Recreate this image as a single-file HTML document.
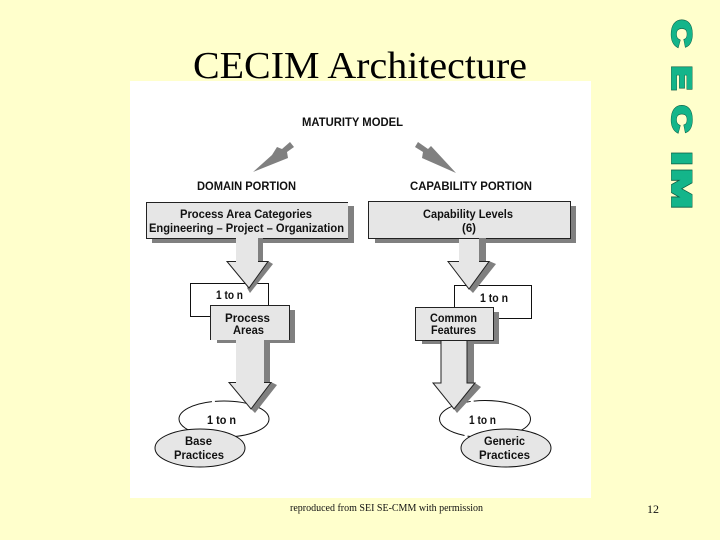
<!DOCTYPE html>
<html><head><meta charset="utf-8"><style>
html,body{margin:0;padding:0;background:#ffffcc}
svg{display:block;filter:blur(.3px)}
.l{font-family:"Liberation Sans",Arial,sans-serif;font-weight:bold;font-size:11.5px;fill:#111}
.o{font-family:"Liberation Sans",Arial,sans-serif;font-weight:bold;font-size:30px;fill:#0a5a40;stroke:#0a5a40;stroke-width:3.2;stroke-linejoin:miter}
.w{font-family:"Liberation Sans",Arial,sans-serif;font-weight:bold;font-size:30px;fill:#14b58a;stroke:#14b58a;stroke-width:2.2;stroke-linejoin:miter}
</style></head><body>
<svg width="720" height="540" viewBox="0 0 720 540" xmlns="http://www.w3.org/2000/svg">
<rect width="720" height="540" fill="#ffffcc"/>
<text x="193" y="78" font-family="'Liberation Serif',serif" font-size="38" textLength="334" lengthAdjust="spacingAndGlyphs" fill="#000">CECIM Architecture</text>
<rect x="130" y="81" width="461" height="417" fill="#fff"/>
<text x="290" y="511" font-family="'Liberation Serif',serif" font-size="11" textLength="193" lengthAdjust="spacingAndGlyphs" fill="#111">reproduced from SEI SE-CMM with permission</text>
<text x="647" y="513" font-family="'Liberation Serif',serif" font-size="12" fill="#111">12</text>

<text class="o" transform="translate(672.600,20) rotate(90) scale(1.23,.89)">C</text>
<text class="w" transform="translate(672.600,20) rotate(90) scale(1.23,.89)">C</text>
<text class="o" transform="translate(672.600,66) rotate(90) scale(1.19,.89)">E</text>
<text class="w" transform="translate(672.600,66) rotate(90) scale(1.19,.89)">E</text>
<text class="o" transform="translate(672.600,105.500) rotate(90) scale(1.23,.89)">C</text>
<text class="w" transform="translate(672.600,105.500) rotate(90) scale(1.23,.89)">C</text>
<text class="o" transform="translate(672.600,152) rotate(90) scale(1.55,.89)">I</text>
<text class="w" transform="translate(672.600,152) rotate(90) scale(1.55,.89)">I</text>
<text class="o" transform="translate(672.600,169) rotate(90) scale(1.57,.89)">M</text>
<text class="w" transform="translate(672.600,169) rotate(90) scale(1.57,.89)">M</text>

<g stroke-linejoin="miter">
<!-- slanted arrows -->
<polygon points="253,172 272,155 277,147 282,149 290,142 294,147 287,152 288,158" fill="#808080"/>
<polygon points="418,142 415,147 423,152 422,158 456,173 431,146 428,149" fill="#808080"/>

<!-- left top -->
<rect x="152" y="206" width="202" height="37" fill="#808080"/>
<rect x="146" y="202" width="202" height="36" fill="#e6e6e6"/>
<path d="M348 202.500H146.500V238.500H348" fill="none" stroke="#222"/>
<rect x="258" y="238" width="5" height="24" fill="#808080"/>
<rect x="190.500" y="283.500" width="78" height="33" fill="#fff" stroke="#111"/>
<polygon points="268,261 273,264 250,293 247,288" fill="#808080"/>
<polygon points="236,238 258,238 258,261 268,261 249,288 227,261 236,261" fill="#e6e6e6"/>
<path d="M236 261.500H227L249 288L268 261.500H258" fill="none" stroke="#222"/>

<!-- right top -->
<rect x="375" y="206" width="201" height="37" fill="#808080"/>
<rect x="368.500" y="201.500" width="202" height="37" fill="#e6e6e6" stroke="#222"/>
<rect x="479" y="238" width="7" height="24" fill="#808080"/>
<rect x="454.500" y="285.500" width="77" height="33" fill="#fff" stroke="#111"/>
<polygon points="489,261 496,264 473,293 469,289" fill="#808080"/>
<polygon points="459,239 479,239 479,261 489,261 469,289 448,261 459,261" fill="#e6e6e6"/>
<path d="M459 261.500H448L469 289L489 261.500H479" fill="none" stroke="#222"/>

<!-- left lower -->
<ellipse cx="224" cy="419" rx="45" ry="18" fill="#fff" stroke="#111" stroke-dasharray="70 3"/>
<rect x="217" y="310" width="78" height="33" fill="#808080"/>
<rect x="264" y="340" width="6" height="44" fill="#808080"/>
<polygon points="271,382 277,385 255,413 251,409" fill="#808080"/>
<polygon points="236,340 264,340 264,382 271,382 251,409 229,382 236,382" fill="#e6e6e6"/>
<path d="M236 382.500H229L251 409L271 382.500H264" fill="none" stroke="#222"/>
<path d="M210.500 340V305.500H289.500V340" fill="#e6e6e6" stroke="#222"/>
<ellipse cx="200" cy="448" rx="45" ry="19" fill="#e6e6e6" stroke="#111"/>

<!-- right lower -->
<ellipse cx="485" cy="419" rx="45.500" ry="18.500" fill="#fff" stroke="#111" stroke-dasharray="70 3"/>
<rect x="422" y="312" width="77" height="32" fill="#808080"/>
<rect x="467" y="344" width="7" height="41" fill="#808080"/>
<polygon points="475,383 481,387 457,413 454,409" fill="#808080"/>
<rect x="415.500" y="307.500" width="78" height="33" fill="#e6e6e6" stroke="#222"/>
<polygon points="441,341 467,341 467,383 475,383 454,409 433,383 441,383" fill="#e6e6e6"/>
<path d="M441 341V383H433L454 409L475 383H467V341" fill="none" stroke="#222"/>
<ellipse cx="506" cy="448" rx="45" ry="19" fill="#e6e6e6" stroke="#111"/>
</g>

<g>
<text class="l" x="302" y="126" textLength="101" lengthAdjust="spacingAndGlyphs">MATURITY MODEL</text>
<text class="l" x="197" y="190" textLength="99" lengthAdjust="spacingAndGlyphs">DOMAIN PORTION</text>
<text class="l" x="410" y="190" textLength="122" lengthAdjust="spacingAndGlyphs">CAPABILITY PORTION</text>
<text class="l" x="180" y="218" textLength="132" lengthAdjust="spacingAndGlyphs">Process Area Categories</text>
<text class="l" x="149" y="232" textLength="195" lengthAdjust="spacingAndGlyphs">Engineering – Project – Organization</text>
<text class="l" x="423" y="218" textLength="90" lengthAdjust="spacingAndGlyphs">Capability Levels</text>
<text class="l" x="462" y="232" textLength="14" lengthAdjust="spacingAndGlyphs">(6)</text>
<text class="l" x="216" y="299" textLength="27" lengthAdjust="spacingAndGlyphs">1 to n</text>
<text class="l" x="480" y="302" textLength="28" lengthAdjust="spacingAndGlyphs">1 to n</text>
<text class="l" x="225" y="322" textLength="45" lengthAdjust="spacingAndGlyphs">Process</text>
<text class="l" x="233" y="334" textLength="31" lengthAdjust="spacingAndGlyphs">Areas</text>
<text class="l" x="430" y="322" textLength="47" lengthAdjust="spacingAndGlyphs">Common</text>
<text class="l" x="431" y="334" textLength="45" lengthAdjust="spacingAndGlyphs">Features</text>
<text class="l" x="207" y="424" textLength="29" lengthAdjust="spacingAndGlyphs">1 to n</text>
<text class="l" x="469" y="424" textLength="27" lengthAdjust="spacingAndGlyphs">1 to n</text>
<text class="l" x="185" y="445" textLength="27" lengthAdjust="spacingAndGlyphs">Base</text>
<text class="l" x="174" y="459" textLength="50" lengthAdjust="spacingAndGlyphs">Practices</text>
<text class="l" x="484" y="445" textLength="41" lengthAdjust="spacingAndGlyphs">Generic</text>
<text class="l" x="479" y="459" textLength="51" lengthAdjust="spacingAndGlyphs">Practices</text>
</g>
</svg>
</body></html>
